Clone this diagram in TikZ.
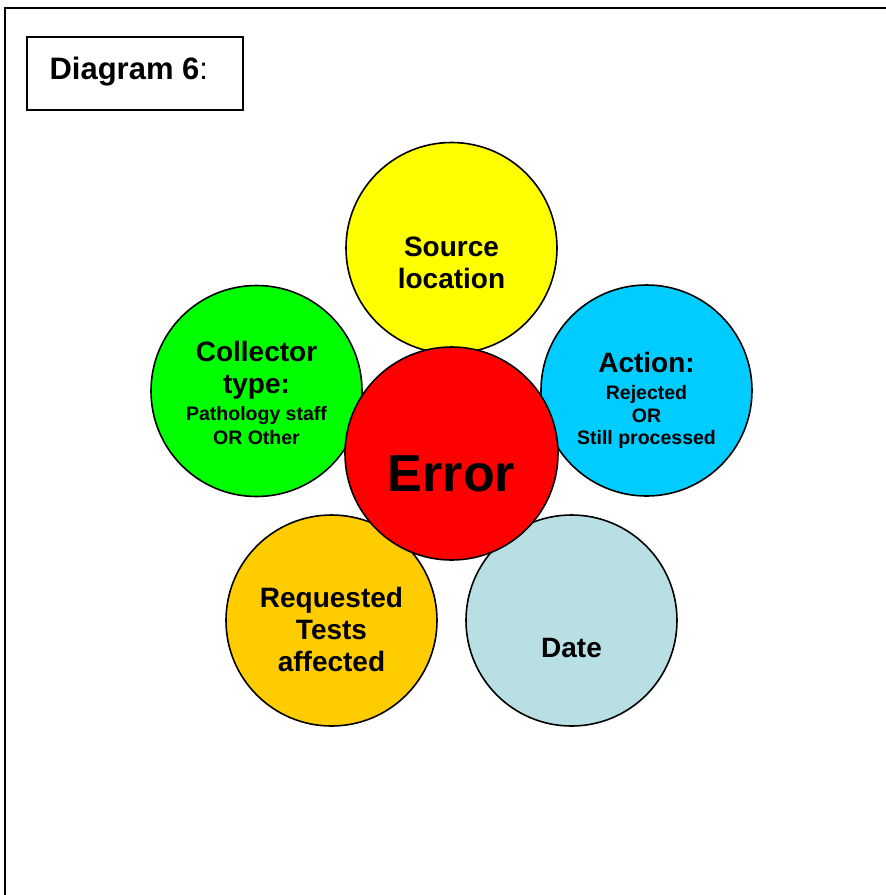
\documentclass[tikz,border=0pt]{standalone}
\usepackage{fontspec}
\setmainfont{Liberation Sans}
\tikzset{
  bubble/.style={circle,draw,line width=1.6pt,minimum size=211pt,inner sep=0pt},
  bigtext/.style={font=\fontsize{28}{32}\selectfont\bfseries,align=center},
  smalltext/.style={font=\fontsize{19.5}{22.5}\selectfont\bfseries,align=center},
}
\newcommand{\bigline}[1]{{\fontsize{28}{32}\selectfont #1}}
\begin{document}
\begin{tikzpicture}[x=1pt,y=-1pt]
                \useasboundingbox (0,0) rectangle (886,895);
                %% frame
                \draw[line width=2.8pt] (5,896) -- (5,8) -- (887,8);
                \node[draw,line width=2pt,minimum width=216pt,minimum height=73pt] (T) at (135,73.5) {};
                \node[anchor=west,font=\fontsize{31}{36}\selectfont] (Tl) at (46,72) {\textbf{Diagram 6}:};
                %% circles
                \node[bubble,fill={rgb,255:red,255;green,255;blue,0}] (S) at (451.5,248) {};
                \node[bubble,fill={rgb,255:red,0;green,255;blue,0}] (C) at (256.5,391) {};
                \node[bubble,fill={rgb,255:red,0;green,204;blue,255}] (A) at (646.5,390.5) {};
                \node[bubble,fill={rgb,255:red,255;green,204;blue,0}] (R) at (331.5,620.5) {};
                \node[bubble,fill={rgb,255:red,184;green,223;blue,227}] (D) at (571.5,620.5) {};
                \node[bubble,fill={rgb,255:red,255;green,0;blue,0},minimum size=213pt] (E) at (451.5,453.5) {};
                %% labels
                \node[bigtext] (Sl) at ([yshift=-15pt]S.center) {Source\\location};
                \node[smalltext] (Cl) at ([yshift=-2pt]C.center) {\bigline{Collector}\\[9.5pt]\bigline{type:}\\[4.5pt]Pathology staff\\[2pt]OR Other};
                \node[smalltext] (Al) at ([yshift=-10pt]A.center) {\bigline{Action:}\\[4.5pt]Rejected\\OR\\Still processed};
                \node[bigtext] (Rl) at ([yshift=-9pt]R.center) {Requested\\Tests\\affected};
                \node[bigtext] (Dl) at ([yshift=-27pt]D.center) {Date};
                \node[font=\fontsize{52}{60}\selectfont\bfseries] (El) at ([yshift=-20pt]E.center) {Error};
\end{tikzpicture}
\end{document}
